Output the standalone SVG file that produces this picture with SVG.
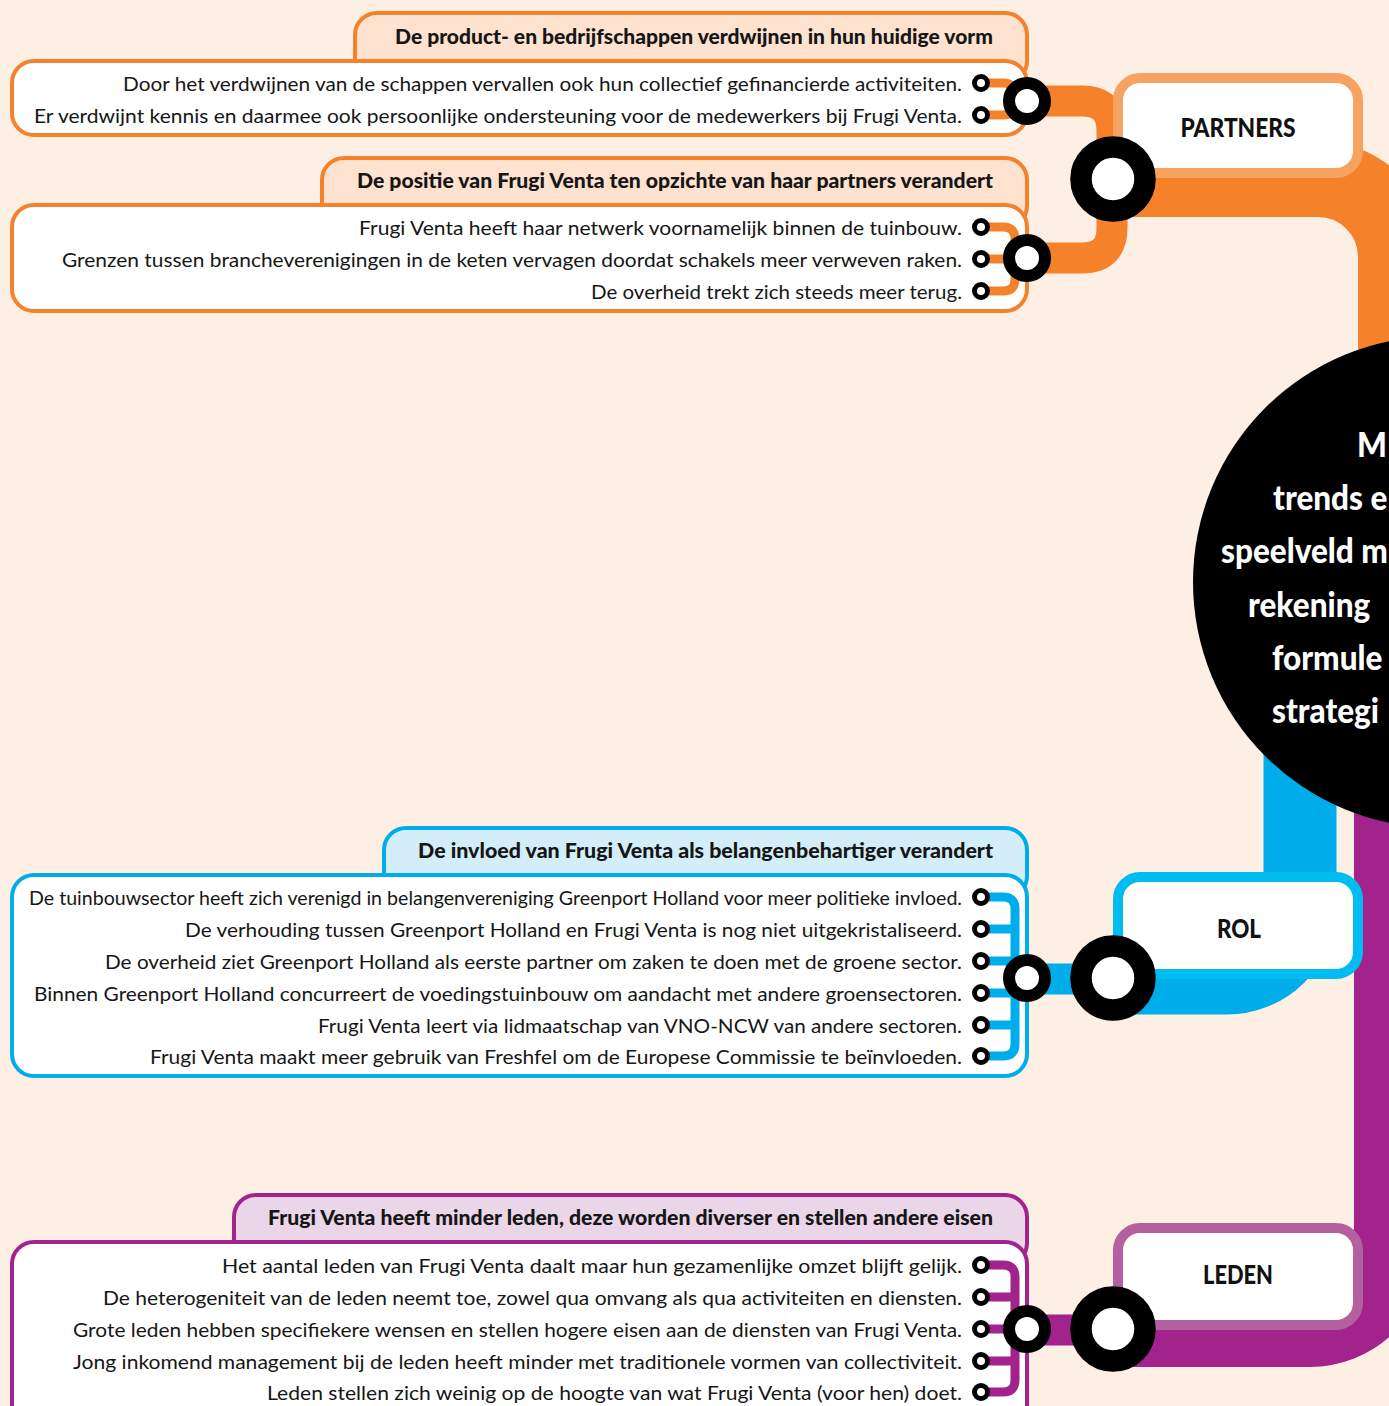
<svg xmlns="http://www.w3.org/2000/svg" width="1389" height="1406" viewBox="0 0 1389 1406">
<style>
.bg{fill:#fdefe4}
.body{fill:#ffffff;stroke-width:4}
.tab{stroke-width:4}
.o{stroke:#f5822a}
.b{stroke:#00adeb}
.p{stroke:#a2238c}
.t{font-family:Lato,"Liberation Sans",sans-serif;font-size:20px;fill:#161616}
.tb{font-family:Lato,"Liberation Sans",sans-serif;font-size:20px;font-weight:900;fill:#161616}
.cat{font-family:Lato,"Liberation Sans",sans-serif;font-size:26px;font-weight:900;fill:#111111;text-anchor:middle}
.ct{font-family:Lato,"Liberation Sans",sans-serif;font-size:35px;font-weight:900;fill:#ffffff}
.bus{fill:none;stroke-width:9;stroke-linejoin:round}
.band{fill:none}
.bullet{fill:#ffffff;stroke:#000000;stroke-width:5}
.js{fill:#ffffff;stroke:#000000;stroke-width:12}
.jb{fill:#ffffff;stroke:#000000;stroke-width:21.5}
.catbox{fill:#ffffff;stroke-width:10}
</style>
<rect class="bg" x="0" y="0" width="1389" height="1406"/>

<g id="box-schappen">
<rect class="tab o" x="355" y="13" width="672" height="70" rx="22" fill="#fde2cf"/>
<rect class="body o" x="12" y="61" width="1015" height="74" rx="22"/>
<text class="tb" x="395" y="44" textLength="598" lengthAdjust="spacingAndGlyphs">De product- en bedrijfschappen verdwijnen in hun huidige vorm</text>
<text class="t" x="123" y="91" textLength="839" lengthAdjust="spacingAndGlyphs">Door het verdwijnen van de schappen vervallen ook hun collectief gefinancierde activiteiten.</text>
<text class="t" x="34" y="123" textLength="928" lengthAdjust="spacingAndGlyphs">Er verdwijnt kennis en daarmee ook persoonlijke ondersteuning voor de medewerkers bij Frugi Venta.</text>
</g>

<g id="box-positie">
<rect class="tab o" x="322" y="158" width="705" height="70" rx="22" fill="#fde2cf"/>
<rect class="body o" x="12" y="205" width="1015" height="106" rx="22"/>
<text class="tb" x="357" y="188" textLength="636" lengthAdjust="spacingAndGlyphs">De positie van Frugi Venta ten opzichte van haar partners verandert</text>
<text class="t" x="359" y="235" textLength="603" lengthAdjust="spacingAndGlyphs">Frugi Venta heeft haar netwerk voornamelijk binnen de tuinbouw.</text>
<text class="t" x="62" y="267" textLength="900" lengthAdjust="spacingAndGlyphs">Grenzen tussen brancheverenigingen in de keten vervagen doordat schakels meer verweven raken.</text>
<text class="t" x="591" y="299" textLength="371" lengthAdjust="spacingAndGlyphs">De overheid trekt zich steeds meer terug.</text>
</g>

<g id="box-invloed">
<rect class="tab b" x="384" y="828" width="643" height="70" rx="22" fill="#d3eef9"/>
<rect class="body b" x="12" y="875" width="1015" height="201" rx="22"/>
<text class="tb" x="418" y="858" textLength="575" lengthAdjust="spacingAndGlyphs">De invloed van Frugi Venta als belangenbehartiger verandert</text>
<text class="t" x="29" y="905" textLength="933" lengthAdjust="spacingAndGlyphs">De tuinbouwsector heeft zich verenigd in belangenvereniging Greenport Holland voor meer politieke invloed.</text>
<text class="t" x="185" y="937" textLength="777" lengthAdjust="spacingAndGlyphs">De verhouding tussen Greenport Holland en Frugi Venta is nog niet uitgekristaliseerd.</text>
<text class="t" x="105" y="969" textLength="857" lengthAdjust="spacingAndGlyphs">De overheid ziet Greenport Holland als eerste partner om zaken te doen met de groene sector.</text>
<text class="t" x="34" y="1001" textLength="928" lengthAdjust="spacingAndGlyphs">Binnen Greenport Holland concurreert de voedingstuinbouw om aandacht met andere groensectoren.</text>
<text class="t" x="318" y="1033" textLength="644" lengthAdjust="spacingAndGlyphs">Frugi Venta leert via lidmaatschap van VNO-NCW van andere sectoren.</text>
<text class="t" x="150" y="1064" textLength="812" lengthAdjust="spacingAndGlyphs">Frugi Venta maakt meer gebruik van Freshfel om de Europese Commissie te beïnvloeden.</text>
</g>

<g id="box-leden">
<rect class="tab p" x="234" y="1195" width="793" height="70" rx="22" fill="#ead5e9"/>
<rect class="body p" x="12" y="1242" width="1015" height="200" rx="22"/>
<text class="tb" x="268" y="1225" textLength="725" lengthAdjust="spacingAndGlyphs">Frugi Venta heeft minder leden, deze worden diverser en stellen andere eisen</text>
<text class="t" x="222" y="1273" textLength="740" lengthAdjust="spacingAndGlyphs">Het aantal leden van Frugi Venta daalt maar hun gezamenlijke omzet blijft gelijk.</text>
<text class="t" x="103" y="1305" textLength="859" lengthAdjust="spacingAndGlyphs">De heterogeniteit van de leden neemt toe, zowel qua omvang als qua activiteiten en diensten.</text>
<text class="t" x="73" y="1337" textLength="889" lengthAdjust="spacingAndGlyphs">Grote leden hebben specifiekere wensen en stellen hogere eisen aan de diensten van Frugi Venta.</text>
<text class="t" x="73" y="1369" textLength="889" lengthAdjust="spacingAndGlyphs">Jong inkomend management bij de leden heeft minder met traditionele vormen van collectiviteit.</text>
<text class="t" x="267" y="1400" textLength="695" lengthAdjust="spacingAndGlyphs">Leden stellen zich weinig op de hoogte van wat Frugi Venta (voor hen) doet.</text>
</g>

<g id="connectors">
<path class="band o" stroke-width="76" d="M1113,179 H1318 A78,78 0 0 1 1396,257 V450"/>
<path class="band b" stroke-width="73" d="M1113,978 H1227 A73,73 0 0 0 1300,905 V700"/>
<path class="band p" stroke-width="76" d="M1113,1329 H1310 A82,82 0 0 0 1392,1247 V760"/>
<path class="band o" stroke-width="31" d="M1027,101 H1082 Q1112,101 1112,131 V228 Q1112,258 1082,258 H1027"/>
<path class="band b" stroke-width="31" d="M1027,979 H1113"/>
<path class="band p" stroke-width="31" d="M1027,1330 H1113"/>
<path class="bus o" d="M981,83 H1003 Q1015,83 1015,95 V103 Q1015,115 1003,115 H981 M1015,101 H1027"/>
<path class="bus o" d="M981,227 H1003 Q1015,227 1015,239 V279 Q1015,291 1003,291 H981 M981,259 H1027"/>
<path class="bus b" d="M981,897 H1003 Q1015,897 1015,909 V1044 Q1015,1056 1003,1056 H981 M981,929 H1015 M981,961 H1015 M981,993 H1015 M981,1025 H1015 M1015,978 H1027"/>
<path class="bus p" d="M981,1265 H1003 Q1015,1265 1015,1277 V1380 Q1015,1392 1003,1392 H981 M981,1297 H1015 M981,1329 H1027 M981,1361 H1015"/>
<circle class="bullet" cx="981" cy="83" r="6.5"/>
<circle class="bullet" cx="981" cy="115" r="6.5"/>
<circle class="bullet" cx="981" cy="227" r="6.5"/>
<circle class="bullet" cx="981" cy="259" r="6.5"/>
<circle class="bullet" cx="981" cy="291" r="6.5"/>
<circle class="bullet" cx="981" cy="897" r="6.5"/>
<circle class="bullet" cx="981" cy="929" r="6.5"/>
<circle class="bullet" cx="981" cy="961" r="6.5"/>
<circle class="bullet" cx="981" cy="993" r="6.5"/>
<circle class="bullet" cx="981" cy="1025" r="6.5"/>
<circle class="bullet" cx="981" cy="1056" r="6.5"/>
<circle class="bullet" cx="981" cy="1265" r="6.5"/>
<circle class="bullet" cx="981" cy="1297" r="6.5"/>
<circle class="bullet" cx="981" cy="1329" r="6.5"/>
<circle class="bullet" cx="981" cy="1361" r="6.5"/>
<circle class="bullet" cx="981" cy="1392" r="6.5"/>
</g>

<g id="partners">
<rect class="catbox" stroke="#f7a260" x="1118" y="78" width="240" height="95" rx="22"/>
<text class="cat" x="1238" y="137" textLength="115" lengthAdjust="spacingAndGlyphs">PARTNERS</text>
</g>
<g id="rol">
<rect class="catbox" stroke="#00bcf0" x="1118" y="877" width="240" height="97" rx="22"/>
<text class="cat" x="1239" y="938" textLength="44" lengthAdjust="spacingAndGlyphs">ROL</text>
</g>
<g id="leden">
<rect class="catbox" stroke="#b4609f" x="1118" y="1228" width="240" height="97" rx="22"/>
<text class="cat" x="1238" y="1284" textLength="70" lengthAdjust="spacingAndGlyphs">LEDEN</text>
</g>

<g id="junctions">
<circle class="js" cx="1027" cy="101" r="18"/>
<circle class="js" cx="1027" cy="258" r="18"/>
<circle class="js" cx="1027" cy="978" r="18"/>
<circle class="js" cx="1027" cy="1329" r="18"/>
<circle class="jb" cx="1113" cy="179" r="32"/>
<circle class="jb" cx="1113" cy="978" r="32"/>
<circle class="jb" cx="1113" cy="1329" r="32"/>
</g>

<g id="center">
<circle cx="1439" cy="582" r="246" fill="#000000"/>
<text class="ct" transform="translate(1357 457) scale(0.9 1)">M</text>
<text class="ct" transform="translate(1273 510) scale(0.9 1)">trends e</text>
<text class="ct" transform="translate(1221 563) scale(0.9 1)">speelveld m</text>
<text class="ct" transform="translate(1248 617) scale(0.9 1)">rekening</text>
<text class="ct" transform="translate(1272 670) scale(0.9 1)">formule</text>
<text class="ct" transform="translate(1272 723) scale(0.9 1)">strategi</text>
</g>
</svg>
